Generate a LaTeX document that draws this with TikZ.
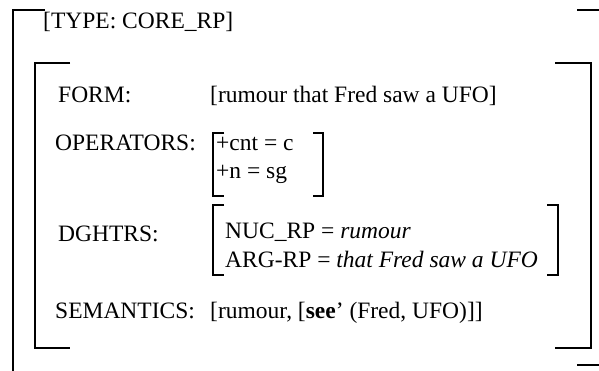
\documentclass[tikz,border=0pt]{standalone}
\usepackage{fontspec}
\setmainfont{Liberation Serif}
\begin{document}
\begin{tikzpicture}[x=1pt,y=-1pt,
  txt/.style={anchor=base west, inner sep=0pt, font=\fontsize{23.5}{27}\selectfont},
  brk/.style={line width=1.8pt},
  sbrk/.style={line width=1.6pt}]
\useasboundingbox (0,0) rectangle (599,371);
\fill[white] (0,0) rectangle (599,371);
% outer bracket (partly cut by the picture's edges)
\draw[brk] (45,10) -- (13,10) -- (13,372);
\draw[brk] (577,10) -- (600,10);
\draw[brk] (577,365) -- (600,365);
% inner bracket
\draw[brk] (70,63) -- (35,63) -- (35,348) -- (70,348);
\draw[brk] (555,63) -- (591,63) -- (591,348) -- (555,348);
% texts
\node[txt] (type) at (43,29) {[TYPE: CORE\_RP]};
\node[txt] (form) at (58,103) {FORM:};
\node[txt] (formv) at (210,103) {[rumour that Fred saw a UFO]};
\node[txt] (ops) at (55,151) {OPERATORS:};
\node[txt] (op1) at (216,151) {+cnt = c};
\node[txt] (op2) at (216,179) {+n = sg};
\draw[sbrk] (224,133) -- (213,133) -- (213,196) -- (224,196);
\draw[sbrk] (313,133) -- (323,133) -- (323,196) -- (313,196);
\node[txt] (dg) at (58,241) {DGHTRS:};
\node[txt] (nuc) at (225,239) {NUC\_RP = \textit{rumour}};
\node[txt] (arg) at (225,267) {ARG-RP = \textit{that Fred saw a UFO}};
\draw[sbrk] (224,205) -- (213,205) -- (213,275) -- (224,275);
\draw[sbrk] (547,205) -- (558,205) -- (558,275) -- (547,275);
\node[txt] (sem) at (55,318) {SEMANTICS:};
\node[txt] (semv) at (210,318) {[rumour, [\textbf{see}’ (Fred, UFO)]]};
\end{tikzpicture}
\end{document}
